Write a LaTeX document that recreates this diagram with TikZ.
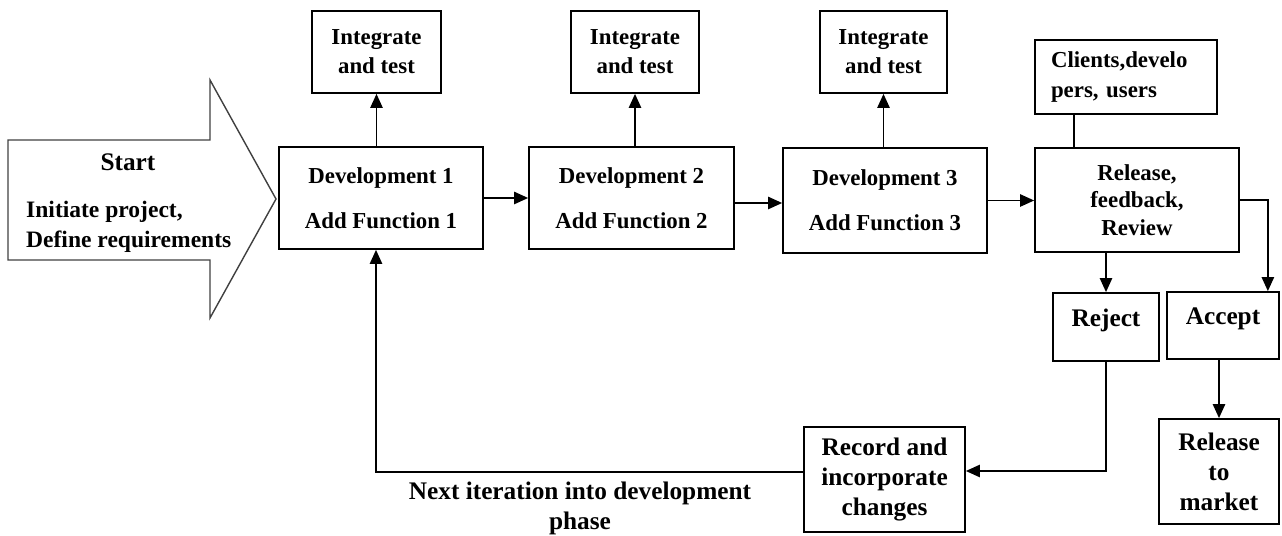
\documentclass[tikz,border=0pt]{standalone}
\usepackage{fontspec}
\setmainfont{Liberation Serif}
\usepackage{tikz}
\usetikzlibrary{positioning,arrows.meta}

\tikzset{
  box/.style={draw, line width=1pt, align=center},
  big/.style={font=\bfseries\fontsize{14.4}{17}\selectfont},
  flow/.style={-{Triangle[length=8pt,width=7pt]}, line width=1pt},
}

\begin{document}
\begin{tikzpicture}[x=0.02cm, y=-0.02cm, font=\bfseries\fontsize{13}{16.5}\selectfont]
    \useasboundingbox (0,0) rectangle (1282,536);
    % start arrow
    \draw[line width=0.8pt, black!75] (8,140) -- (210,140) -- (210,80) -- (276,199)
        -- (210,318) -- (210,260) -- (8,260) -- cycle;
    \node[big] (start) at (128,162) {Start};
    \node[anchor=west, align=left, font=\bfseries\fontsize{13.4}{17}\selectfont] (init) at (20,227) {Initiate project,\\Define requirements};
    % development and test boxes
    \node[box, minimum width=4.08cm, minimum height=2.04cm] (dev1) at (381,198) {Development 1\\[9pt]Add Function 1};
    \node[box, minimum width=4.1cm, minimum height=2.04cm] (dev2) at (631.5,198) {Development 2\\[9pt]Add Function 2};
    \node[box, minimum width=4.08cm, minimum height=2.1cm] (dev3) at (885,200.5) {Development 3\\[9pt]Add Function 3};
    \node[box, minimum width=2.58cm, minimum height=1.64cm] (int1) at (376.5,52) {Integrate\\and test};
    \node[box, minimum width=2.56cm, minimum height=1.64cm] (int2) at (635,52) {Integrate\\and test};
    \node[box, minimum width=2.54cm, minimum height=1.64cm] (int3) at (883.5,52) {Integrate\\and test};
    % review
    \node[box, minimum width=4.08cm, minimum height=2.08cm] (rel) at (1137,200) {Release,\\[-1pt]feedback,\\[-1pt]Review};
    \node[box, align=left, text width=3.0cm, minimum width=3.64cm, minimum height=1.48cm] (cli) at (1126,77) {Clients,develo\\[1pt]pers, users};
    \node[box, big, text depth=0.36cm, minimum width=2.12cm, minimum height=1.36cm] (rej) at (1106,327) {Reject};
    \node[box, big, text depth=0.36cm, minimum width=2.24cm, minimum height=1.34cm] (acc) at (1223,325.5) {Accept};
    \node[box, big, minimum width=2.4cm, minimum height=2.1cm] (mkt) at (1219,471.5) {Release\\to\\market};
    \node[box, big, minimum width=3.22cm, minimum height=2.1cm] (rec) at (884.5,479.5) {Record and\\incorporate\\changes};
    \node[big, align=center] (next) at (580,508) {Next iteration into development\\phase};
    % connectors
    \draw[flow] (int1.south |- dev1.north) -- (int1.south);
    \draw[flow] (int2.south |- dev2.north) -- (int2.south);
    \draw[flow] (int3.south |- dev3.north) -- (int3.south);
    \draw[flow] (dev1.east) -- (dev2.west);
    \draw[flow] ([yshift=-0.1cm]dev2.east) -- ([yshift=-0.1cm]dev2.east -| dev3.west);
    \draw[flow] (dev3.east) -- (dev3.east -| rel.west);
    \draw[line width=1pt] ([xshift=-1.04cm]cli.south) -- ([xshift=-1.04cm]cli.south |- rel.north);
    \draw[flow] (rej.north |- rel.south) -- (rej.north);
    \draw[flow] (rel.east) -| ([xshift=-0.24cm]acc.north east);
    \draw[flow] (mkt.north |- acc.south) -- (mkt.north);
    \draw[flow] (rej.south) |- ([yshift=0.17cm]rec.east);
    \draw[flow] ([yshift=0.15cm]rec.west) -| ([xshift=-0.1cm]dev1.south);
\end{tikzpicture}
\end{document}
